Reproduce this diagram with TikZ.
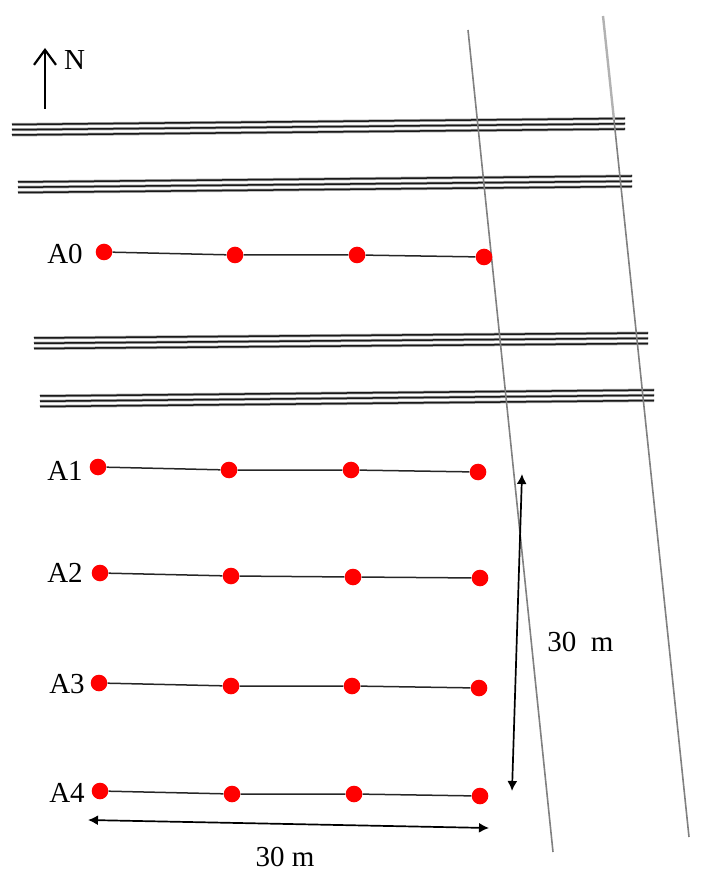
\documentclass[tikz,border=0pt]{standalone}
\usepackage{fontspec}
\setmainfont{Liberation Serif}
\usepackage{tikz}
\usetikzlibrary{arrows.meta}
\tikzset{>=latex}
\tikzset{
  sensor/.style={circle, fill=red, inner sep=0pt, minimum size=8.3pt},
  label/.style={font=\fontsize{14.5}{16}\selectfont},
  railhalo/.style={black!35, line width=1.5pt},
  rail/.style={black!90, line width=0.75pt},
  road/.style={black!50, line width=0.8pt},
  dim/.style={{Latex[length=5pt,width=5pt]}-{Latex[length=5pt,width=5pt]}, line width=0.85pt},
}

\begin{document}
\begin{tikzpicture}[x=0.5pt, y=-0.5pt]
      \useasboundingbox (0, 0) rectangle (700, 886);
      % tracks
      \foreach \xa/\ya/\xb/\yb in {12/124.5/625/118.5, 18/182/632/176, 34/338/648/333, 40/396/654/390} {
        \foreach \off in {0, 5.25, 10.5} {
          \coordinate (railL) at (\xa, \ya + \off);
          \coordinate (railR) at (\xb, \yb + \off);
          \draw[railhalo] (railL) -- (railR);
          \draw[rail] (railL) -- (railR);
        }
      }
      % roads
      \coordinate (roadAtop) at (468, 30);
      \coordinate (roadAbot) at (553, 852);
      \coordinate (roadBtop) at (603, 16);
      \coordinate (roadBmid) at (614, 120);
      \coordinate (roadBbot) at (689, 837);
      \draw[road] (roadAtop) -- (roadAbot);
      \draw[black!30, line width=1.2pt] (roadBtop) -- (roadBmid);
      \draw[road] (roadBmid) -- (roadBbot);
      % north arrow
      \coordinate (northS) at (45, 109);
      \coordinate (northN) at (45, 48);
      \draw[-{Straight Barb[length=7.5pt,width=11pt]}, line width=1.1pt] (northS) -- (northN);
      \node[label] (north) at (74.5, 60) {N};
      % sensor lines
      \foreach \name/\lx/\ly/\xa/\ya/\xb/\yb/\xc/\yc/\xd/\yd in {
        A0/65/254/104/252/235/255/357/255/484/257,
        A1/65/471/98/467/229/470/351/470/478/472,
        A2/65/573/100/573/231/576/353/577/480/578,
        A3/67/684/99/683/231/686/352/686/479/688,
        A4/67/793/100/791/232/794/354/794/480/796} {
        \node[label] (\name) at (\lx, \ly) {\name};
        \node[sensor] (\name a) at (\xa, \ya) {};
        \node[sensor] (\name b) at (\xb, \yb) {};
        \node[sensor] (\name c) at (\xc, \yc) {};
        \node[sensor] (\name d) at (\xd, \yd) {};
        \draw[black!85, line width=0.75pt] (\name a) -- (\name b) -- (\name c) -- (\name d);
      }
      % dimensions
      \coordinate (dimWl) at (88, 820);
      \coordinate (dimWr) at (489, 828);
      \coordinate (dimHt) at (522, 474);
      \coordinate (dimHb) at (512, 791);
      \draw[dim] (dimWl) -- (dimWr);
      \draw[dim] (dimHt) -- (dimHb);
      \node[label] (dimW) at (285, 857) {30 m};
      \node[label] (dimH) at (580.5, 642) {30\ \ m};
    \end{tikzpicture}
\end{document}
